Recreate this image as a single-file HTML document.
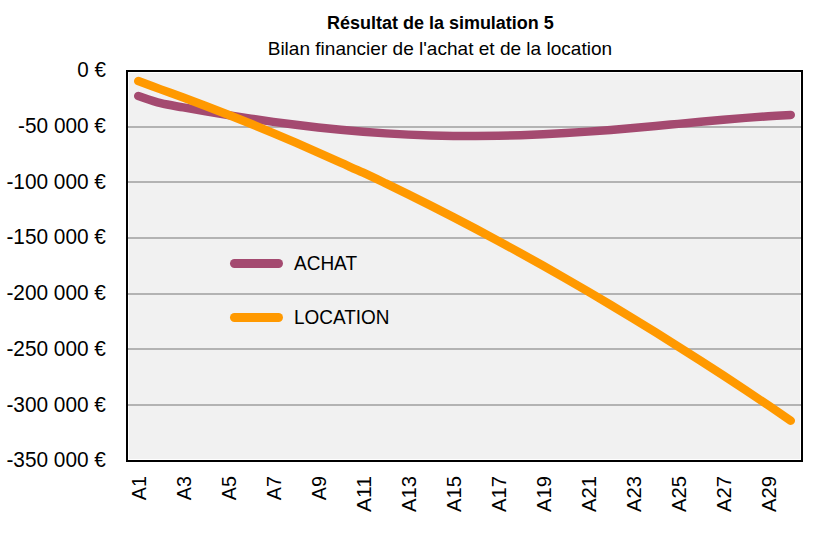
<!DOCTYPE html>
<html><head><meta charset="utf-8"><style>
html,body{margin:0;padding:0;background:#fff;width:815px;height:537px;overflow:hidden;font-family:"Liberation Sans",sans-serif;}
svg{display:block}
</style></head><body>
<svg width="815" height="537" viewBox="0 0 815 537"><rect x="0" y="0" width="815" height="537" fill="#ffffff"/>
<rect x="126" y="70" width="677" height="392" fill="#000000"/>
<rect x="128" y="72" width="673" height="388" fill="#ffffff"/>
<rect x="129" y="73" width="671" height="386" fill="#f1f1f1"/>
<rect x="128" y="126" width="673" height="2" fill="#b3b3b3"/>
<rect x="128" y="181" width="673" height="2" fill="#b3b3b3"/>
<rect x="128" y="237" width="673" height="2" fill="#b3b3b3"/>
<rect x="128" y="293" width="673" height="2" fill="#b3b3b3"/>
<rect x="128" y="348" width="673" height="2" fill="#b3b3b3"/>
<rect x="128" y="404" width="673" height="2" fill="#b3b3b3"/>
<text x="77.26" y="77.2" font-family="Liberation Sans, sans-serif" font-size="21.5" textLength="28.64" lengthAdjust="spacingAndGlyphs" fill="#000">0 €</text>
<text x="18.12" y="132.9" font-family="Liberation Sans, sans-serif" font-size="21.5" textLength="87.78" lengthAdjust="spacingAndGlyphs" fill="#000">-50 000 €</text>
<text x="6.41" y="188.7" font-family="Liberation Sans, sans-serif" font-size="21.5" textLength="99.49" lengthAdjust="spacingAndGlyphs" fill="#000">-100 000 €</text>
<text x="6.41" y="244.4" font-family="Liberation Sans, sans-serif" font-size="21.5" textLength="99.49" lengthAdjust="spacingAndGlyphs" fill="#000">-150 000 €</text>
<text x="6.41" y="300.2" font-family="Liberation Sans, sans-serif" font-size="21.5" textLength="99.49" lengthAdjust="spacingAndGlyphs" fill="#000">-200 000 €</text>
<text x="6.41" y="355.9" font-family="Liberation Sans, sans-serif" font-size="21.5" textLength="99.49" lengthAdjust="spacingAndGlyphs" fill="#000">-250 000 €</text>
<text x="6.41" y="411.7" font-family="Liberation Sans, sans-serif" font-size="21.5" textLength="99.49" lengthAdjust="spacingAndGlyphs" fill="#000">-300 000 €</text>
<text x="6.41" y="467.4" font-family="Liberation Sans, sans-serif" font-size="21.5" textLength="99.49" lengthAdjust="spacingAndGlyphs" fill="#000">-350 000 €</text>
<text transform="translate(146.05,476) rotate(-90)" font-family="Liberation Sans, sans-serif" font-size="21" textLength="24.14" lengthAdjust="spacingAndGlyphs" x="-24.14" fill="#000">A1</text>
<text transform="translate(191.05,476) rotate(-90)" font-family="Liberation Sans, sans-serif" font-size="21" textLength="24.14" lengthAdjust="spacingAndGlyphs" x="-24.14" fill="#000">A3</text>
<text transform="translate(236.05,476) rotate(-90)" font-family="Liberation Sans, sans-serif" font-size="21" textLength="24.14" lengthAdjust="spacingAndGlyphs" x="-24.14" fill="#000">A5</text>
<text transform="translate(281.05,476) rotate(-90)" font-family="Liberation Sans, sans-serif" font-size="21" textLength="24.14" lengthAdjust="spacingAndGlyphs" x="-24.14" fill="#000">A7</text>
<text transform="translate(326.05,476) rotate(-90)" font-family="Liberation Sans, sans-serif" font-size="21" textLength="24.14" lengthAdjust="spacingAndGlyphs" x="-24.14" fill="#000">A9</text>
<text transform="translate(371.05,476) rotate(-90)" font-family="Liberation Sans, sans-serif" font-size="21" textLength="36.05" lengthAdjust="spacingAndGlyphs" x="-36.05" fill="#000">A11</text>
<text transform="translate(416.05,476) rotate(-90)" font-family="Liberation Sans, sans-serif" font-size="21" textLength="36.05" lengthAdjust="spacingAndGlyphs" x="-36.05" fill="#000">A13</text>
<text transform="translate(461.05,476) rotate(-90)" font-family="Liberation Sans, sans-serif" font-size="21" textLength="36.05" lengthAdjust="spacingAndGlyphs" x="-36.05" fill="#000">A15</text>
<text transform="translate(506.05,476) rotate(-90)" font-family="Liberation Sans, sans-serif" font-size="21" textLength="36.05" lengthAdjust="spacingAndGlyphs" x="-36.05" fill="#000">A17</text>
<text transform="translate(551.05,476) rotate(-90)" font-family="Liberation Sans, sans-serif" font-size="21" textLength="36.05" lengthAdjust="spacingAndGlyphs" x="-36.05" fill="#000">A19</text>
<text transform="translate(596.05,476) rotate(-90)" font-family="Liberation Sans, sans-serif" font-size="21" textLength="36.05" lengthAdjust="spacingAndGlyphs" x="-36.05" fill="#000">A21</text>
<text transform="translate(641.05,476) rotate(-90)" font-family="Liberation Sans, sans-serif" font-size="21" textLength="36.05" lengthAdjust="spacingAndGlyphs" x="-36.05" fill="#000">A23</text>
<text transform="translate(686.05,476) rotate(-90)" font-family="Liberation Sans, sans-serif" font-size="21" textLength="36.05" lengthAdjust="spacingAndGlyphs" x="-36.05" fill="#000">A25</text>
<text transform="translate(731.05,476) rotate(-90)" font-family="Liberation Sans, sans-serif" font-size="21" textLength="36.05" lengthAdjust="spacingAndGlyphs" x="-36.05" fill="#000">A27</text>
<text transform="translate(776.05,476) rotate(-90)" font-family="Liberation Sans, sans-serif" font-size="21" textLength="36.05" lengthAdjust="spacingAndGlyphs" x="-36.05" fill="#000">A29</text>
<path d="M138.25,96.00 C142.00,97.20 153.25,101.33 160.75,103.22 C168.25,105.12 175.75,106.01 183.25,107.35 C190.75,108.70 198.25,110.03 205.75,111.31 C213.25,112.60 220.75,113.85 228.25,115.07 C235.75,116.28 243.25,117.46 250.75,118.59 C258.25,119.71 265.75,120.80 273.25,121.84 C280.75,122.88 288.25,123.87 295.75,124.81 C303.25,125.75 310.75,126.64 318.25,127.47 C325.75,128.30 333.25,129.07 340.75,129.79 C348.25,130.51 355.75,131.17 363.25,131.76 C370.75,132.36 378.25,132.90 385.75,133.38 C393.25,133.85 400.75,134.27 408.25,134.62 C415.75,134.97 423.25,135.26 430.75,135.49 C438.25,135.71 445.75,135.87 453.25,135.98 C460.75,136.08 468.25,136.11 475.75,136.09 C483.25,136.07 490.75,135.99 498.25,135.85 C505.75,135.71 513.25,135.51 520.75,135.25 C528.25,135.00 535.75,134.69 543.25,134.33 C550.75,133.97 558.25,133.56 565.75,133.11 C573.25,132.66 580.75,132.15 588.25,131.62 C595.75,131.08 603.25,130.50 610.75,129.90 C618.25,129.29 625.75,128.65 633.25,127.99 C640.75,127.34 648.25,126.65 655.75,125.96 C663.25,125.27 670.75,124.56 678.25,123.86 C685.75,123.16 693.25,122.45 700.75,121.76 C708.25,121.07 715.75,120.38 723.25,119.74 C730.75,119.09 738.25,118.45 745.75,117.87 C753.25,117.29 760.75,116.74 768.25,116.27 C775.75,115.79 787.00,115.22 790.75,115.02" fill="none" stroke="#a44a70" stroke-width="8.5" stroke-linecap="round" stroke-linejoin="round"/>
<path d="M138.25,81.10 C142.00,82.48 153.25,86.64 160.75,89.38 C168.25,92.12 175.75,94.78 183.25,97.55 C190.75,100.32 198.25,103.14 205.75,106.01 C213.25,108.87 220.75,111.79 228.25,114.75 C235.75,117.71 243.25,120.72 250.75,123.77 C258.25,126.83 265.75,129.93 273.25,133.08 C280.75,136.23 288.25,139.43 295.75,142.67 C303.25,145.92 310.75,149.21 318.25,152.54 C325.75,155.88 333.25,159.33 340.75,162.69 C348.25,166.05 355.75,169.26 363.25,172.71 C370.75,176.17 378.25,179.80 385.75,183.41 C393.25,187.02 400.75,190.68 408.25,194.38 C415.75,198.08 423.25,201.82 430.75,205.61 C438.25,209.40 445.75,213.24 453.25,217.12 C460.75,221.00 468.25,224.92 475.75,228.89 C483.25,232.86 490.75,236.87 498.25,240.93 C505.75,244.98 513.25,249.08 520.75,253.23 C528.25,257.37 535.75,261.56 543.25,265.79 C550.75,270.02 558.25,274.29 565.75,278.61 C573.25,282.92 580.75,287.28 588.25,291.68 C595.75,296.09 603.25,300.53 610.75,305.02 C618.25,309.50 625.75,314.03 633.25,318.60 C640.75,323.17 648.25,327.78 655.75,332.44 C663.25,337.09 670.75,341.79 678.25,346.53 C685.75,351.26 693.25,356.04 700.75,360.86 C708.25,365.68 715.75,370.54 723.25,375.44 C730.75,380.34 738.25,385.29 745.75,390.27 C753.25,395.25 760.75,400.27 768.25,405.34 C775.75,410.40 787.00,418.10 790.75,420.65" fill="none" stroke="#ff9900" stroke-width="8.5" stroke-linecap="round" stroke-linejoin="round"/>
<line x1="234.5" y1="263.5" x2="278.5" y2="263.5" stroke="#a44a70" stroke-width="9" stroke-linecap="round"/>
<line x1="234.5" y1="317.5" x2="278.5" y2="317.5" stroke="#ff9900" stroke-width="9" stroke-linecap="round"/>
<text x="294" y="270" font-family="Liberation Sans, sans-serif" font-size="20.6" textLength="63" lengthAdjust="spacingAndGlyphs" fill="#000">ACHAT</text>
<text x="294" y="324" font-family="Liberation Sans, sans-serif" font-size="20.6" textLength="95.5" lengthAdjust="spacingAndGlyphs" fill="#000">LOCATION</text>
<text x="327" y="29" font-family="Liberation Sans, sans-serif" font-size="18" font-weight="bold" textLength="226.8" lengthAdjust="spacingAndGlyphs" fill="#000">Résultat de la simulation 5</text>
<text x="267.7" y="54.6" font-family="Liberation Sans, sans-serif" font-size="19" textLength="344.4" lengthAdjust="spacingAndGlyphs" fill="#000">Bilan financier de l'achat et de la location</text></svg>
</body></html>
